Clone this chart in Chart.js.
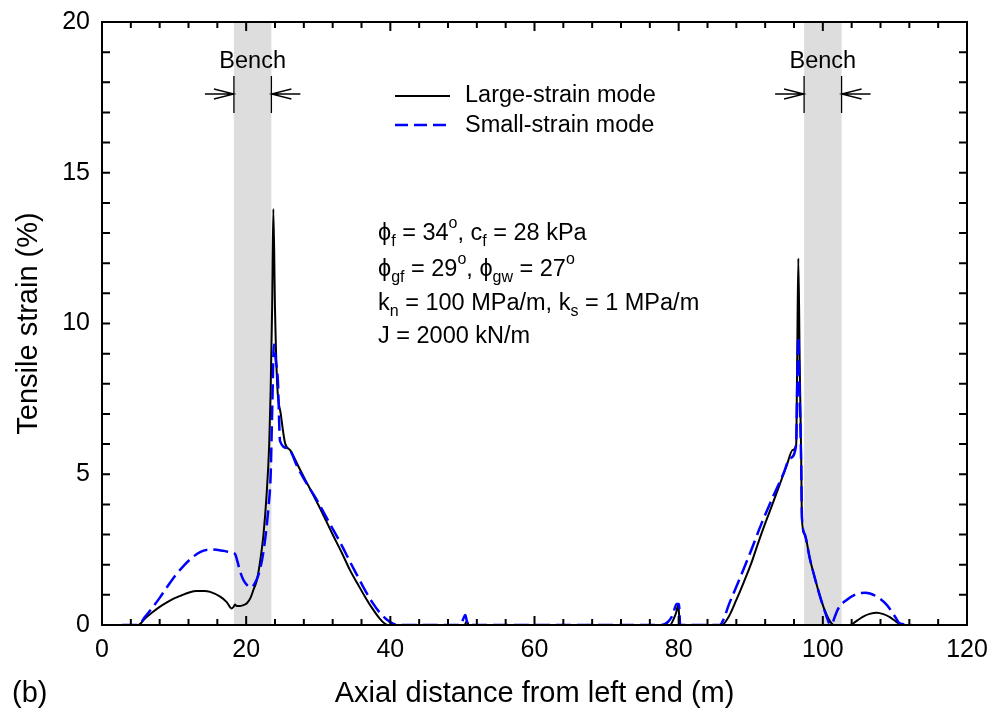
<!DOCTYPE html>
<html>
<head>
<meta charset="utf-8">
<script src="https://cdn.jsdelivr.net/npm/chart.js@4"></script>
<style>
  html, body { margin: 0; padding: 0; background: #fff; }
  canvas { display: block; }
</style>
</head>
<body>
<canvas id="myChart" width="990" height="719"></canvas>
<script>
// Large-strain mode (black solid)
const largeX = [2.8, 5.0, 6.0, 7.0, 8.0, 9.0, 10.0, 11.0, 12.0, 13.1, 14.2, 15.0, 16.4, 17.3, 18.0, 18.3, 18.45, 18.7, 19.1, 19.6, 20.1, 20.6, 21.0, 21.5, 21.9, 22.4, 22.8, 23.2, 23.4, 23.6, 23.77, 24.0, 24.3, 24.8, 25.4, 26.1, 27.5, 29.0, 30.5, 32.0, 33.3, 34.4, 35.5, 36.5, 37.5, 38.5, 39.2, 39.7, 50.3, 50.6, 50.9, 78.8, 79.3, 79.7, 79.96, 80.15, 86.0, 87.0, 88.0, 89.0, 90.0, 91.0, 92.0, 93.0, 94.0, 95.0, 95.8, 96.3, 96.45, 96.6, 96.8, 97.0, 97.1, 97.5, 98.2, 98.9, 99.8, 100.5, 101.0, 101.5, 103.8, 104.6, 105.6, 106.5, 107.5, 108.4, 109.3, 110.1, 110.7, 111.0];
const largeY = [0, 0, 0.22, 0.42, 0.6, 0.75, 0.88, 0.98, 1.07, 1.13, 1.13, 1.1, 0.94, 0.76, 0.55, 0.62, 0.68, 0.63, 0.63, 0.66, 0.72, 0.9, 1.16, 1.5, 2.05, 3.0, 4.2, 6.0, 7.8, 10.5, 13.8, 10.5, 8.0, 7.0, 6.03, 5.8, 5.14, 4.45, 3.75, 3.0, 2.38, 1.82, 1.35, 0.93, 0.55, 0.22, 0.05, 0, 0, 0.12, 0, 0, 0.2, 0.45, 0.7, 0, 0, 0.3, 0.83, 1.4, 2.0, 2.7, 3.37, 4.0, 4.65, 5.3, 5.8, 5.98, 9.0, 12.16, 8.5, 5.5, 3.5, 3.0, 2.2, 1.55, 0.8, 0.35, 0.12, 0, 0, 0.12, 0.28, 0.37, 0.41, 0.36, 0.26, 0.12, 0.03, 0];

// Small-strain mode (blue dashed)
const smallX = [2.8, 5.0, 6.0, 7.0, 8.0, 9.0, 10.1, 11.2, 12.2, 13.6, 15.2, 16.8, 18.0, 18.45, 18.8, 19.1, 19.6, 20.1, 20.6, 21.2, 21.9, 22.5, 23.1, 23.4, 23.6, 23.85, 24.1, 24.4, 24.7, 25.8, 27.2, 28.5, 29.8, 31.4, 33.0, 34.4, 35.5, 36.5, 37.5, 38.5, 39.5, 40.3, 41.0, 49.7, 50.2, 50.4, 50.6, 50.8, 77.6, 78.5, 79.2, 79.7, 80.05, 80.2, 85.7, 86.2, 87.0, 88.0, 89.0, 89.9, 91.5, 93.1, 94.5, 95.45, 96.3, 96.45, 96.6, 96.8, 97.0, 97.1, 97.5, 98.2, 98.9, 99.8, 100.5, 101.0, 101.3, 101.7, 102.15, 103.3, 104.7, 105.9, 107.5, 108.9, 110.0, 110.7, 112.3];
const smallY = [0, 0, 0.28, 0.58, 0.9, 1.25, 1.62, 1.93, 2.17, 2.42, 2.51, 2.46, 2.4, 2.36, 2.1, 1.82, 1.5, 1.33, 1.25, 1.38, 1.82, 2.6, 3.92, 5.0, 7.0, 9.3, 8.8, 8.1, 6.1, 5.86, 5.2, 4.65, 4.15, 3.45, 2.76, 2.1, 1.6, 1.15, 0.75, 0.42, 0.18, 0.05, 0, 0, 0.25, 0.33, 0.15, 0, 0, 0.1, 0.35, 0.7, 0.7, 0, 0, 0.17, 0.7, 1.27, 1.85, 2.38, 3.37, 4.26, 5.0, 5.53, 5.97, 8.0, 9.56, 7.5, 5.3, 3.6, 3.0, 2.2, 1.55, 0.8, 0.3, 0.02, 0.05, 0.3, 0.55, 0.83, 1.03, 1.07, 0.94, 0.66, 0.28, 0.05, 0];

const benchLeft = [18.3, 23.5];
const benchRight = [97.4, 102.6];

const xTickLabels = [0, 20, 40, 60, 80, 100, 120];
const yTickLabels = [0, 5, 10, 15, 20];

const FONT = '"Liberation Sans", Arial, sans-serif';

const toPoints = (xs, ys) => xs.map((x, i) => ({ x: x, y: ys[i] }));

// annotation text with sub/superscripts
const infoLines = [
    [['ϕ'], ['f', 'sub'], [' = 34'], ['o', 'sup'], [', c'], ['f', 'sub'], [' = 28 kPa']],
    [['ϕ'], ['gf', 'sub'], [' = 29'], ['o', 'sup'], [', ϕ'], ['gw', 'sub'], [' = 27'], ['o', 'sup']],
    [['k'], ['n', 'sub'], [' = 100 MPa/m, k'], ['s', 'sub'], [' = 1 MPa/m']],
    [['J = 2000 kN/m']]
];

function drawRich(ctx, x, y, parts) {
    parts.forEach(p => {
        const small = p[1] !== undefined;
        ctx.font = (small ? 16 : 23.5) + 'px ' + FONT;
        const dy = p[1] === 'sub' ? 6 : (p[1] === 'sup' ? -12 : 0);
        ctx.fillText(p[0], x, y + dy);
        x += ctx.measureText(p[0]).width;
    });
}

function drawBench(ctx, xs, b, top) {
    const x0 = xs.getPixelForValue(b[0]);
    const x1 = xs.getPixelForValue(b[1]);
    const yTop = top + 54, yBot = top + 91, yArr = top + 72;
    ctx.strokeStyle = '#000';
    ctx.lineWidth = 1.3;
    ctx.beginPath();
    ctx.moveTo(x0, yTop); ctx.lineTo(x0, yBot);
    ctx.moveTo(x1, yTop); ctx.lineTo(x1, yBot);
    // left arrow pointing right
    ctx.moveTo(x0 - 29, yArr); ctx.lineTo(x0, yArr);
    ctx.moveTo(x0 - 20, yArr - 5); ctx.lineTo(x0, yArr); ctx.lineTo(x0 - 20, yArr + 5);
    // right arrow pointing left
    ctx.moveTo(x1 + 29, yArr); ctx.lineTo(x1, yArr);
    ctx.moveTo(x1 + 20, yArr - 5); ctx.lineTo(x1, yArr); ctx.lineTo(x1 + 20, yArr + 5);
    ctx.stroke();
    ctx.fillStyle = '#000';
    ctx.font = '23.5px ' + FONT;
    ctx.textAlign = 'center';
    ctx.textBaseline = 'alphabetic';
    ctx.fillText('Bench', (x0 + x1) / 2, top + 46);
}

const decorPlugin = {
    id: 'decor',
    beforeDatasetsDraw(chart) {
        const { ctx, chartArea: a, scales: { x } } = chart;
        ctx.save();
        ctx.fillStyle = '#dddddd';
        [benchLeft, benchRight].forEach(b => {
            const x0 = x.getPixelForValue(b[0]);
            const x1 = x.getPixelForValue(b[1]);
            ctx.fillRect(x0, a.top, x1 - x0, a.bottom - a.top);
        });
        ctx.restore();
    },
    afterDatasetsDraw(chart) {
        const { ctx, chartArea: a, scales: { x, y } } = chart;
        ctx.save();

        // frame
        ctx.strokeStyle = '#000';
        ctx.lineWidth = 2;
        ctx.strokeRect(a.left, a.top, a.right - a.left, a.bottom - a.top);

        // inward ticks
        ctx.beginPath();
        x.ticks.forEach(t => {
            const px = x.getPixelForValue(t.value);
            const len = xTickLabels.includes(t.value) ? 9 : 6;
            ctx.moveTo(px, a.bottom); ctx.lineTo(px, a.bottom - len);
            ctx.moveTo(px, a.top); ctx.lineTo(px, a.top + len);
        });
        y.ticks.forEach(t => {
            const py = y.getPixelForValue(t.value);
            ctx.moveTo(a.left, py); ctx.lineTo(a.left + 8, py);
            ctx.moveTo(a.right, py); ctx.lineTo(a.right - 8, py);
        });
        ctx.stroke();

        // bench markers
        drawBench(ctx, x, benchLeft, a.top);
        drawBench(ctx, x, benchRight, a.top);

        // legend
        ctx.lineWidth = 2;
        ctx.strokeStyle = '#000';
        ctx.setLineDash([]);
        ctx.beginPath(); ctx.moveTo(395, 96); ctx.lineTo(450, 96); ctx.stroke();
        ctx.strokeStyle = '#0000ff';
        ctx.lineWidth = 2.5;
        ctx.setLineDash([13, 6]);
        ctx.beginPath(); ctx.moveTo(395, 125); ctx.lineTo(450, 125); ctx.stroke();
        ctx.setLineDash([]);
        ctx.fillStyle = '#000';
        ctx.font = '23.5px ' + FONT;
        ctx.textAlign = 'left';
        ctx.textBaseline = 'middle';
        ctx.fillText('Large-strain mode', 465, 96);
        ctx.fillText('Small-strain mode', 465, 126);

        // parameters block
        ctx.textBaseline = 'alphabetic';
        const baselines = [240, 276, 310, 343];
        infoLines.forEach((parts, i) => drawRich(ctx, 378, baselines[i], parts));

        // axis titles
        ctx.font = '29px ' + FONT;
        ctx.textAlign = 'center';
        ctx.fillText('Axial distance from left end (m)', (a.left + a.right) / 2, 702);
        ctx.textAlign = 'left';
        ctx.fillText('(b)', 12, 702);
        ctx.save();
        ctx.translate(37, (a.top + a.bottom) / 2);
        ctx.rotate(-Math.PI / 2);
        ctx.textAlign = 'center';
        ctx.fillText('Tensile strain (%)', 0, 0);
        ctx.restore();

        ctx.restore();
    }
};

const ctx = document.getElementById('myChart').getContext('2d');
const chart = new Chart(ctx, {
    type: 'line',
    data: {
        datasets: [{
            label: 'Large-strain mode',
            data: toPoints(largeX, largeY),
            borderColor: '#000000',
            borderWidth: 2,
            pointRadius: 0,
            fill: false,
            cubicInterpolationMode: 'monotone',
            order: 1
        }, {
            label: 'Small-strain mode',
            data: toPoints(smallX, smallY),
            borderColor: '#0000ff',
            borderWidth: 2.5,
            borderDash: [15, 6],
            pointRadius: 0,
            fill: false,
            cubicInterpolationMode: 'monotone',
            order: 0
        }]
    },
    options: {
        responsive: false,
        animation: false,
        layout: { padding: { left: 0, top: 22, right: 23, bottom: 0 } },
        plugins: {
            legend: { display: false },
            tooltip: { enabled: false }
        },
        scales: {
            x: {
                type: 'linear',
                min: 0,
                max: 120,
                afterFit: s => {
                    s.height = 94;
                    s.paddingLeft = 0;
                    s.paddingRight = 0;
                },
                grid: { display: false, drawTicks: false },
                border: { display: false },
                ticks: {
                    stepSize: 4,
                    autoSkip: false,
                    maxRotation: 0,
                    padding: 10,
                    color: '#000',
                    font: { family: FONT, size: 25 },
                    callback: v => xTickLabels.includes(v) ? String(v) : ''
                }
            },
            y: {
                min: 0,
                max: 20,
                afterFit: s => {
                    s.width = 102;
                    s.paddingTop = 0;
                    s.paddingBottom = 0;
                },
                grid: { display: false, drawTicks: false },
                border: { display: false },
                ticks: {
                    stepSize: 1,
                    autoSkip: false,
                    padding: 12,
                    color: '#000',
                    font: { family: FONT, size: 25 },
                    callback: v => yTickLabels.includes(v) ? String(v) : ''
                }
            }
        }
    },
    plugins: [decorPlugin]
});
</script>
</body>
</html>
